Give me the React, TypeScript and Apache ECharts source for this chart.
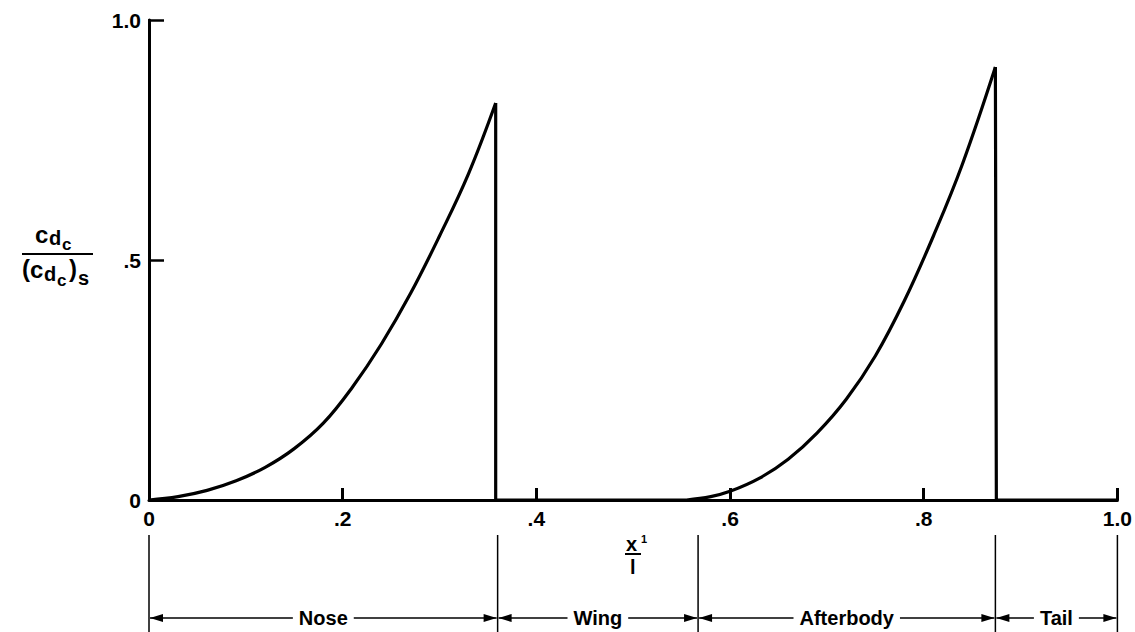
import React, { useEffect, useRef } from "react";
import * as echarts from "echarts";

// Nose segment curve (x/l, cdc/(cdc)s)
const noseCurve: [number, number][] = [
  [0, 0], [0.03, 0.007], [0.06, 0.02], [0.09, 0.04], [0.12, 0.068], [0.15, 0.107],
  [0.18, 0.16], [0.21, 0.235], [0.24, 0.325], [0.27, 0.43], [0.3, 0.55],
  [0.33, 0.68], [0.358, 0.827],
];
const noseDrop: [number, number][] = [[0.358, 0.827], [0.358, 0], [0.555, 0]];
const afterCurve: [number, number][] = [
  [0.555, 0], [0.58, 0.007], [0.6, 0.018], [0.63, 0.045], [0.66, 0.085], [0.69, 0.14],
  [0.72, 0.21], [0.75, 0.3], [0.78, 0.415], [0.81, 0.55], [0.84, 0.7], [0.874, 0.902],
];
const afterDrop: [number, number][] = [[0.874, 0.902], [0.875, 0], [1.0, 0]];

const sectionBounds: number[] = [0, 0.36, 0.567, 0.874, 1.0];
const sectionNames: string[] = ["Nose", "Wing", "Afterbody", "Tail"];

const xTickValues: number[] = [0, 0.2, 0.4, 0.6, 0.8, 1.0];
const xTickLabels: string[] = ["0", ".2", ".4", ".6", ".8", "1.0"];
const yTickValues: number[] = [0, 0.5, 1.0];
const yTickLabels: string[] = ["0", ".5", "1.0"];

const FONT = "'Liberation Sans', 'DejaVu Sans', sans-serif";

function fmt(values: number[], labels: string[]) {
  return (v: number) => {
    const i = values.findIndex((t) => Math.abs(t - v) < 1e-6);
    return i >= 0 ? labels[i] : "";
  };
}

export default function App() {
  const ref = useRef<HTMLDivElement>(null);
  useEffect(() => {
    document.body.style.margin = "0";
    if (!ref.current) return;
    const chart = echarts.init(ref.current, null, { renderer: "svg" });
    const lineSeries = (data: [number, number][], smooth: boolean) => ({
      type: "line",
      data,
      smooth: smooth ? 0.4 : false,
      showSymbol: false,
      symbol: "none",
      lineStyle: { color: "#000", width: 3.2 },
      z: 5,
    });
    const segData = sectionNames.map((_, i) => [sectionBounds[i], sectionBounds[i + 1]]);
    const option: any = {
      animation: false,
      backgroundColor: "#fff",
      grid: { left: 149, right: 15, top: 20, bottom: 132 },
      xAxis: [
        {
          type: "value", min: 0, max: 1, interval: 0.2,
          axisLine: { lineStyle: { color: "#000", width: 3 } },
          axisTick: { inside: true, length: 12, lineStyle: { color: "#000", width: 3 } },
          axisLabel: { margin: 8, color: "#000", fontSize: 21, fontFamily: FONT, fontWeight: "bold", formatter: fmt(xTickValues, xTickLabels) },
          splitLine: { show: false },
        },
        {
          type: "value", min: 0, max: 1, position: "top",
          axisLine: { show: true, lineStyle: { color: "#000", width: 2 } },
          axisTick: { show: false }, axisLabel: { show: false }, splitLine: { show: false },
        },
      ],
      yAxis: [
        {
          type: "value", min: 0, max: 1, interval: 0.5,
          axisLine: { lineStyle: { color: "#000", width: 3 } },
          axisTick: { inside: true, length: 15, lineStyle: { color: "#000", width: 2.5 } },
          axisLabel: { margin: 8, color: "#000", fontSize: 21, fontFamily: FONT, fontWeight: "bold", formatter: fmt(yTickValues, yTickLabels) },
          splitLine: { show: false },
        },
        {
          type: "value", min: 0, max: 1, position: "right",
          axisLine: { show: true, lineStyle: { color: "#000", width: 2 } },
          axisTick: { show: false }, axisLabel: { show: false }, splitLine: { show: false },
        },
      ],
      series: [
        lineSeries(noseCurve, true),
        lineSeries(noseDrop, false),
        lineSeries(afterCurve, true),
        lineSeries(afterDrop, false),
        {
          type: "custom",
          clip: false,
          data: sectionBounds.map((b) => [b, 0]),
          renderItem: (params: any, api: any) => {
            const p = api.coord([api.value(0), 0]);
            return {
              type: "line",
              shape: { x1: p[0], y1: p[1] + 35, x2: p[0], y2: p[1] + 132 },
              style: { stroke: "#000", lineWidth: 1.5 },
            };
          },
        },
        {
          type: "custom",
          clip: false,
          data: segData,
          renderItem: (params: any, api: any) => {
            const a = api.coord([api.value(0), 0]);
            const b = api.coord([api.value(1), 0]);
            const y = a[1] + 118;
            const ax = a[0] + 1;
            const bx = b[0] - 1;
            const cx = (a[0] + b[0]) / 2;
            return {
              type: "group",
              children: [
                { type: "line", shape: { x1: ax, y1: y, x2: bx, y2: y }, style: { stroke: "#000", lineWidth: 1.5 } },
                { type: "polygon", shape: { points: [[ax, y], [ax + 13, y - 4], [ax + 13, y + 4]] }, style: { fill: "#000" } },
                { type: "polygon", shape: { points: [[bx, y], [bx - 13, y - 4], [bx - 13, y + 4]] }, style: { fill: "#000" } },
                {
                  type: "text",
                  style: {
                    text: sectionNames[params.dataIndex], x: cx, y, align: "center", verticalAlign: "middle",
                    fontSize: 20, fontFamily: FONT, fontWeight: "bold", fill: "#000",
                    backgroundColor: "#fff", padding: [0, 6],
                  },
                  z2: 10,
                },
              ],
            };
          },
        },
      ],
      graphic: [
        // y-axis label: c_dc / (c_dc)_s
        { type: "text", left: 35, top: 222, style: { text: "c", fontSize: 24, fontFamily: FONT, fontWeight: "bold", fill: "#000" } },
        { type: "text", left: 49, top: 228, style: { text: "d", fontSize: 20, fontFamily: FONT, fontWeight: "bold", fill: "#000" } },
        { type: "text", left: 62, top: 236, style: { text: "c", fontSize: 17, fontFamily: FONT, fontWeight: "bold", fill: "#000" } },
        { type: "line", shape: { x1: 22, y1: 254, x2: 93, y2: 254 }, style: { stroke: "#000", lineWidth: 2 } },
        { type: "text", left: 22, top: 256, style: { text: "(", fontSize: 24, fontFamily: FONT, fontWeight: "bold", fill: "#000" } },
        { type: "text", left: 30, top: 257, style: { text: "c", fontSize: 24, fontFamily: FONT, fontWeight: "bold", fill: "#000" } },
        { type: "text", left: 44, top: 264, style: { text: "d", fontSize: 20, fontFamily: FONT, fontWeight: "bold", fill: "#000" } },
        { type: "text", left: 57, top: 272, style: { text: "c", fontSize: 17, fontFamily: FONT, fontWeight: "bold", fill: "#000" } },
        { type: "text", left: 69, top: 256, style: { text: ")", fontSize: 24, fontFamily: FONT, fontWeight: "bold", fill: "#000" } },
        { type: "text", left: 78, top: 268, style: { text: "s", fontSize: 20, fontFamily: FONT, fontWeight: "bold", fill: "#000" } },
        // x-axis label: x1 / l
        { type: "text", left: 626, top: 534, style: { text: "x", fontSize: 20, fontFamily: FONT, fontWeight: "bold", fill: "#000" } },
        { type: "text", left: 641, top: 533, style: { text: "1", fontSize: 11, fontFamily: FONT, fontWeight: "bold", fill: "#000" } },
        { type: "line", shape: { x1: 625, y1: 554, x2: 641, y2: 554 }, style: { stroke: "#000", lineWidth: 2 } },
        { type: "text", left: 630, top: 557, style: { text: "l", fontSize: 20, fontFamily: FONT, fontWeight: "bold", fill: "#000" } },
      ],
    };
    chart.setOption(option);
    return () => chart.dispose();
  }, []);
  return <div ref={ref} style={{ width: 1135, height: 632 }} />;
}
